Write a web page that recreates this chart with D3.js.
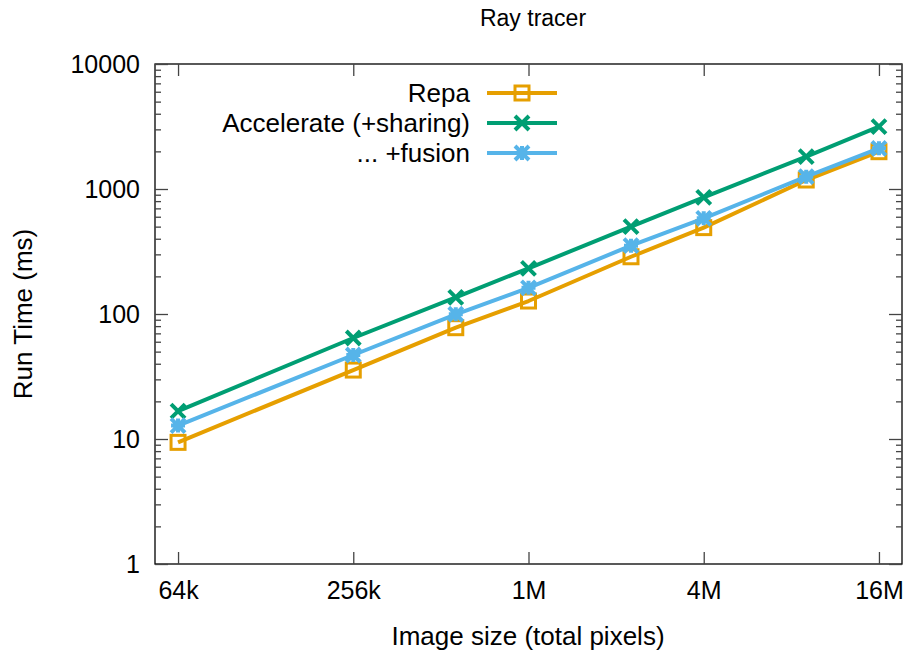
<!DOCTYPE html>
<html>
<head>
<meta charset="utf-8">
<title>Ray tracer</title>
<script src="https://cdnjs.cloudflare.com/ajax/libs/d3/7.8.5/d3.min.js"></script>
<style>
body { margin: 0; background: #fff; }
svg { display: block; font-family: "Liberation Sans", Arial, sans-serif; }
.axis line { stroke: #444; stroke-width: 1.3; }
.axis text { font-size: 25px; fill: #000; font-family: "Liberation Sans", Arial, sans-serif; }
</style>
</head>
<body>
<script>
// image sizes in pixels (side x side)
var sides = [256, 512, 768, 1024, 1536, 2048, 3072, 4096];
var pixels = sides.map(function(s) { return s * s; });

var seriesNames = ["Repa", "Accelerate (+sharing)", "... +fusion"];
var repa = [9.4, 35.6, 77.7, 127, 287, 491, 1180, 1988];
var accel = [16.7, 64.3, 136, 232, 500, 858, 1815, 3152];
var fusion = [12.8, 47, 99.5, 162, 352, 583, 1255, 2115];
var seriesColors = ["#E69F00", "#009E73", "#56B4E9"];
var seriesMarks = ["square", "cross", "star"];

var xTickValues = [65536, 262144, 1048576, 4194304, 16777216];
var xTickLabels = ["64k", "256k", "1M", "4M", "16M"];
var yTickValues = [1, 10, 100, 1000, 10000];

var W = 904, H = 655;
var pL = 155, pR = 902, pT = 64, pB = 564;

var svg = d3.select("body").append("svg")
    .attr("width", W)
    .attr("height", H);

var pad = Math.pow(2, 0.263);
var x = d3.scaleLog().base(2)
    .domain([65536 / pad, 16777216 * pad])
    .range([pL, pR]);
var y = d3.scaleLog()
    .domain([1, 10000])
    .range([pB, pT]);

// minor y ticks 2..9 per decade
var yMinor = [];
for (var d = 1; d < 10000; d *= 10) {
    for (var k = 2; k < 10; k++) yMinor.push(d * k);
}

// frame
svg.append("rect")
    .attr("x", pL).attr("y", pT)
    .attr("width", pR - pL).attr("height", pB - pT)
    .attr("fill", "none").attr("stroke", "#000").attr("stroke-width", 1.3);

// bottom axis
svg.append("g").attr("class", "axis")
    .attr("transform", "translate(0," + pB + ")")
    .call(d3.axisBottom(x).tickValues(xTickValues)
        .tickFormat(function(d, i) { return xTickLabels[i]; })
        .tickSizeInner(-12).tickSizeOuter(0).tickPadding(17));
// top axis (ticks only)
svg.append("g").attr("class", "axis")
    .attr("transform", "translate(0," + pT + ")")
    .call(d3.axisTop(x).tickValues(xTickValues).tickFormat("")
        .tickSizeInner(-12).tickSizeOuter(0));

// left axis
svg.append("g").attr("class", "axis")
    .attr("transform", "translate(" + pL + ",0)")
    .call(d3.axisLeft(y).tickValues(yTickValues).tickFormat(d3.format("d"))
        .tickSizeInner(-13).tickSizeOuter(0).tickPadding(15));
svg.append("g").attr("class", "axis")
    .attr("transform", "translate(" + pL + ",0)")
    .call(d3.axisLeft(y).tickValues(yMinor).tickFormat("")
        .tickSizeInner(-6).tickSizeOuter(0));
// right axis
svg.append("g").attr("class", "axis")
    .attr("transform", "translate(" + pR + ",0)")
    .call(d3.axisRight(y).tickValues(yTickValues).tickFormat("")
        .tickSizeInner(-13).tickSizeOuter(0));
svg.append("g").attr("class", "axis")
    .attr("transform", "translate(" + pR + ",0)")
    .call(d3.axisRight(y).tickValues(yMinor).tickFormat("")
        .tickSizeInner(-6).tickSizeOuter(0));
svg.selectAll(".axis path.domain").remove();

// titles
svg.append("text")
    .attr("x", 533).attr("y", 26)
    .attr("text-anchor", "middle").attr("font-size", 23)
    .text("Ray tracer");
svg.append("text")
    .attr("x", 528).attr("y", 645)
    .attr("text-anchor", "middle").attr("font-size", 26)
    .text("Image size (total pixels)");
svg.append("text")
    .attr("transform", "translate(32," + ((pT + pB) / 2) + ") rotate(-90)")
    .attr("text-anchor", "middle").attr("font-size", 26)
    .text("Run Time (ms)");

function drawMark(g, kind, cx, cy, color) {
    var s = 7;
    if (kind == "square") {
        g.append("rect")
            .attr("x", cx - s).attr("y", cy - s)
            .attr("width", 2 * s).attr("height", 2 * s)
            .attr("fill", "none").attr("stroke", color).attr("stroke-width", 3);
    } else {
        var p = "M" + (cx - s) + "," + (cy - s) + "L" + (cx + s) + "," + (cy + s) +
                "M" + (cx - s) + "," + (cy + s) + "L" + (cx + s) + "," + (cy - s);
        if (kind == "star") {
            p += "M" + (cx - s) + "," + cy + "L" + (cx + s) + "," + cy +
                 "M" + cx + "," + (cy - s) + "L" + cx + "," + (cy + s);
        }
        g.append("path").attr("d", p)
            .attr("fill", "none").attr("stroke", color).attr("stroke-width", 4);
    }
}

var allSeries = [repa, accel, fusion];
var line = d3.line()
    .x(function(d, i) { return x(pixels[i]); })
    .y(function(d) { return y(d); });

allSeries.forEach(function(vals, si) {
    var g = svg.append("g");
    g.append("path")
        .attr("d", line(vals))
        .attr("fill", "none")
        .attr("stroke", seriesColors[si])
        .attr("stroke-width", 4)
        .attr("stroke-linejoin", "round");
    vals.forEach(function(v, i) {
        drawMark(g, seriesMarks[si], x(pixels[i]), y(v), seriesColors[si]);
    });

    // legend entry
    var ly = 93 + si * 30;
    var lg = svg.append("g");
    lg.append("text")
        .attr("x", 470).attr("y", ly + 9)
        .attr("text-anchor", "end").attr("font-size", 26)
        .text(seriesNames[si]);
    lg.append("line")
        .attr("x1", 487).attr("x2", 557)
        .attr("y1", ly).attr("y2", ly)
        .attr("stroke", seriesColors[si]).attr("stroke-width", 4);
    drawMark(lg, seriesMarks[si], 522, ly, seriesColors[si]);
});
</script>
</body>
</html>
